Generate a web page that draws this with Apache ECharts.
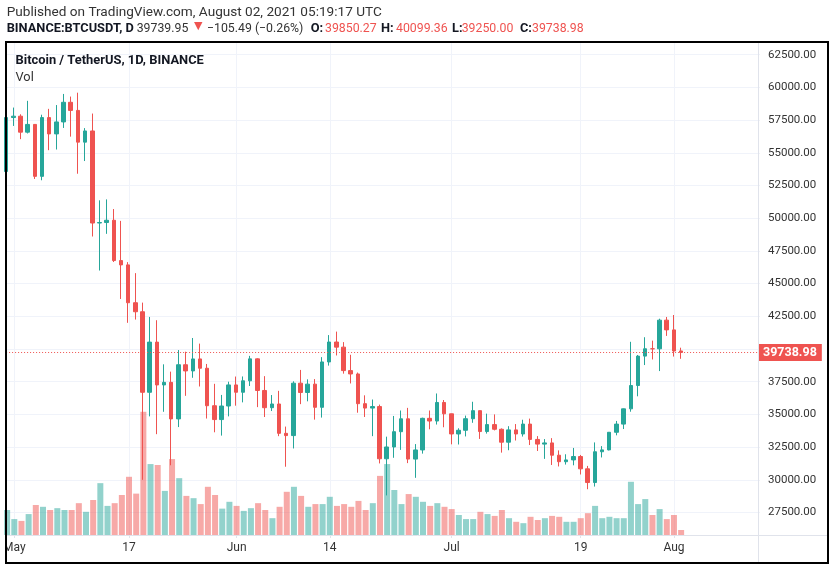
<!DOCTYPE html>
<html>
<head>
<meta charset="utf-8">
<title>Bitcoin / TetherUS, 1D, BINANCE</title>
<script src="https://cdn.jsdelivr.net/npm/echarts/dist/echarts.min.js"></script>
<style>
  html, body { margin: 0; padding: 0; background: #fff; }
  #chart { width: 835px; height: 570px; }
</style>
</head>
<body>
<div id="chart"></div>
<script>
// time scale: Apr 30 2021 onwards, incl. the empty days at the right side
var firstDay = Date.UTC(2021, 3, 30);
var dayCount = 106;
var tickLabels = {
    '2021-05-01': 'May',
    '2021-05-17': '17',
    '2021-06-01': 'Jun',
    '2021-06-14': '14',
    '2021-07-01': 'Jul',
    '2021-07-19': '19',
    '2021-08-01': 'Aug'
};

// daily candles, Apr 30 .. Aug 2
var opens = [53568, 57697, 57798, 56578, 57170, 53200, 57692, 56444, 57360, 58862,
    58240, 55816, 56670, 49631, 49670, 49841, 46762, 46431, 43538, 42849,
    36690, 40526, 37252, 37449, 34655, 38796, 38324, 39241, 38529, 35663,
    34605, 35642, 37253, 36693, 37568, 39246, 36829, 35513, 35796, 33552,
    33380, 37388, 36675, 37313, 35543, 39010, 40533, 40143, 38349, 38092,
    35820, 35484, 35600, 31608, 32509, 33678, 34663, 31584, 32283, 34700,
    34494, 35911, 35045, 33504, 33786, 34669, 35287, 33690, 34220, 33863,
    32875, 33816, 33503, 34259, 33086, 32729, 32820, 31880, 31383, 31520,
    31778, 30839, 29790, 32144, 32287, 33634, 34258, 35425, 37208, 39456,
    40019, 40016, 42206, 41461, 39850.27];
var highs = [57963, 58458, 57944, 58973, 57200, 57911, 58360, 58650, 59500, 59300,
    59595, 56888, 58000, 51367, 51438, 50700, 49795, 46643, 45800, 43546,
    42451, 42200, 38829, 38270, 39920, 39791, 40841, 40411, 38856, 37338,
    36488, 37499, 37894, 37900, 39476, 39289, 37925, 36480, 36800, 34068,
    37530, 38400, 37680, 37700, 39380, 41064, 41330, 40527, 39559, 38200,
    36457, 36137, 35750, 33298, 34881, 35298, 35500, 32730, 34749, 35297,
    36600, 36100, 35060, 33939, 34909, 35967, 35293, 35059, 35000, 33929,
    34100, 34262, 34592, 34678, 33340, 33114, 33185, 32248, 31951, 32435,
    31899, 31063, 32858, 32575, 33650, 34500, 35450, 40550, 39542, 40900,
    40640, 42316, 42448, 42599, 40099.36];
var lows = [53013, 57053, 56044, 56478, 53000, 52900, 55200, 55250, 56900, 56235,
    53400, 54370, 48600, 46000, 48805, 46650, 43825, 42001, 42250, 30000,
    34850, 33488, 35200, 31111, 34031, 36419, 37800, 37134, 34684, 33632,
    33379, 34850, 35666, 35920, 37170, 35555, 34800, 35258, 33336, 31000,
    32396, 35784, 36000, 34600, 34757, 38730, 39506, 38116, 37365, 35129,
    34803, 33336, 31251, 28805, 31683, 32286, 31275, 30151, 32000, 33862,
    34225, 34017, 32711, 32699, 33316, 34357, 33125, 33532, 33777, 32077,
    32261, 33004, 33306, 32658, 32202, 31600, 31133, 31020, 31164, 31108,
    30407, 29278, 29482, 31708, 32250, 33401, 33881, 35205, 36383, 38772,
    39200, 38313, 41000, 39422, 39250.00];
var closes = [57694, 57798, 56578, 57170, 53200, 57692, 56444, 57360, 58862, 58240,
    55816, 56670, 49631, 49670, 49841, 46762, 46431, 43538, 42849, 36690,
    40526, 37252, 37449, 34655, 38796, 38324, 39241, 38529, 35663, 34605,
    35642, 37253, 36693, 37568, 39246, 36829, 35513, 35796, 33552, 33380,
    37388, 36675, 37313, 35543, 39010, 40533, 40143, 38349, 38092, 35820,
    35484, 35600, 31608, 32509, 33678, 34663, 31584, 32283, 34700, 34494,
    35911, 35045, 33504, 33786, 34669, 35287, 33690, 34220, 33863, 32875,
    33816, 33503, 34259, 33086, 32729, 32820, 31880, 31383, 31520, 31778,
    30839, 29790, 32144, 32287, 33634, 34258, 35425, 37208, 39456, 40019,
    40016, 42206, 41461, 39845, 39738.98];
// volume, thousand BTC
var volumes = [55, 35, 31, 46, 66, 62, 55, 59, 55, 55,
    70, 51, 77, 114, 64, 70, 88, 128, 91, 271,
    156, 154, 97, 167, 125, 86, 81, 68, 106, 88,
    58, 73, 64, 53, 59, 70, 55, 37, 62, 95,
    106, 86, 62, 68, 68, 84, 64, 68, 62, 75,
    55, 70, 130, 156, 99, 68, 90, 84, 73, 64,
    70, 62, 57, 44, 35, 35, 51, 46, 42, 55,
    37, 29, 26, 40, 33, 37, 42, 40, 29, 29,
    37, 48, 64, 37, 40, 37, 37, 117, 68, 79,
    44, 57, 35, 44, 11];

// header quote
var lastPrice = '39739.95';
var change = '\u2212105.49';
var changePct = '\u22120.26%';

var upColor = '#26a69a';
var downColor = '#ef5350';
var upVolColor = 'rgba(38,166,154,0.5)';
var downVolColor = 'rgba(239,83,80,0.5)';
var gridColor = '#f0f3fa';
var sepColor = '#e0e3eb';
var textColor = '#333';
var darkText = '#131722';

var dates = [];
for (var i = 0; i < dayCount; i++) {
    dates.push(new Date(firstDay + i * 86400000).toISOString().slice(0, 10));
}

var candleData = [];
var volumeData = [];
for (var i = 0; i < closes.length; i++) {
    candleData.push([opens[i], closes[i], lows[i], highs[i]]);
    volumeData.push({
        value: volumes[i],
        itemStyle: { color: closes[i] >= opens[i] ? upVolColor : downVolColor }
    });
}
var last = closes.length - 1;

function isTick(index, value) {
    return tickLabels[value] !== undefined;
}

// header: [x, text, font, colour]
var boldFont = 'bold 12.8px Roboto';
var numFont = '12.3px Roboto';
var header = [
    [6.7, 'Published on TradingView.com, August 02, 2021 05:19:17 UTC', '13.6px Roboto', textColor, 12.7],
    [6.7, 'BINANCE:BTCUSDT, D', boldFont, darkText, 29.3],
    [136.7, lastPrice, numFont, textColor, 29.3],
    [194, '\u25BC', '11px "DejaVu Sans"', downColor, 26.5],
    [207, change + ' (' + changePct + ')', numFont, textColor, 29.3],
    [310.7, 'O:', boldFont, darkText, 29.3],
    [325, opens[last].toFixed(2), numFont, downColor, 29.3],
    [381, 'H:', boldFont, darkText, 29.3],
    [396, highs[last].toFixed(2), numFont, downColor, 29.3],
    [452, 'L:', boldFont, darkText, 29.3],
    [461.7, lows[last].toFixed(2), numFont, downColor, 29.3],
    [520, 'C:', boldFont, darkText, 29.3],
    [532, closes[last].toFixed(2), numFont, downColor, 29.3],
    [15.5, 'Bitcoin / TetherUS, 1D, BINANCE', 'bold 12.9px Roboto', darkText, 60.7],
    [15.5, 'Vol', '12.8px Roboto', textColor, 78]
];

var graphics = header.map(function (h) {
    return {
        type: 'text', z: 102, silent: true,
        style: { x: h[0], y: h[4], text: h[1], font: h[2], fill: h[3], verticalAlign: 'middle', align: 'left' }
    };
});
graphics.push(
    // hides the part of the first date label that runs past the frame
    { type: 'rect', z: 100, shape: { x: 0, y: 536, width: 6, height: 34 }, style: { fill: '#fff' } },
    { type: 'line', z: 100, shape: { x1: 758.5, y1: 43, x2: 758.5, y2: 563 }, style: { stroke: sepColor, lineWidth: 1 } },
    { type: 'line', z: 100, shape: { x1: 7, y1: 535.5, x2: 828, y2: 535.5 }, style: { stroke: sepColor, lineWidth: 1 } },
    { type: 'rect', z: 101, shape: { x: 6, y: 42, width: 822, height: 521 }, style: { fill: 'none', stroke: '#000', lineWidth: 2 } }
);

var chart = echarts.init(document.getElementById('chart'));

var option = {
    animation: false,
    textStyle: { fontFamily: 'Roboto' },
    grid: [
        { left: 6.1, right: 75, top: 22, height: 523.2 },
        { left: 6.1, right: 75, top: 43, bottom: 35 }
    ],
    xAxis: [
        {
            type: 'category', gridIndex: 0, data: dates, boundaryGap: false, show: false
        },
        {
            type: 'category', gridIndex: 1, data: dates, boundaryGap: false,
            axisLine: { show: false },
            axisTick: { show: true, interval: isTick, length: 3, lineStyle: { color: sepColor } },
            axisLabel: {
                interval: isTick,
                formatter: function (v) { return tickLabels[v] || ''; },
                color: textColor, fontSize: 12, margin: 7
            },
            splitLine: { show: true, interval: isTick, lineStyle: { color: gridColor } }
        }
    ],
    yAxis: [
        {
            type: 'value', gridIndex: 0, position: 'right',
            min: 25000, max: 65000, interval: 2500,
            axisLine: { show: false },
            axisTick: { show: false },
            axisLabel: {
                showMinLabel: false, showMaxLabel: false,
                margin: 8, color: textColor, fontSize: 11.5,
                formatter: function (v) { return (v < 27500 || v > 62500) ? '' : v.toFixed(2); }
            },
            splitLine: { show: true, showMinLine: false, showMaxLine: false, lineStyle: { color: gridColor } }
        },
        {
            type: 'value', gridIndex: 1, min: 0, max: 1082, show: false,
            splitLine: { show: false }
        }
    ],
    series: [
        {
            name: 'Vol',
            type: 'bar',
            xAxisIndex: 1, yAxisIndex: 1,
            barWidth: 6,
            z: 1,
            data: volumeData
        },
        {
            name: 'BTCUSDT',
            type: 'candlestick',
            xAxisIndex: 0, yAxisIndex: 0,
            barWidth: 4,
            z: 3,
            itemStyle: {
                color: upColor, color0: downColor,
                borderColor: upColor, borderColor0: downColor,
                borderWidth: 1
            },
            data: candleData,
            markLine: {
                silent: true,
                symbol: ['none', 'none'],
                lineStyle: { color: downColor, type: [1, 2], width: 1 },
                label: {
                    position: 'end', distance: -2,
                    formatter: function (p) { return p.value.toFixed(2); },
                    backgroundColor: downColor, color: '#fff', fontWeight: 'bold',
                    fontSize: 12.5, padding: [3, 5, 2, 5], lineHeight: 12
                },
                data: [{ yAxis: closes[last] }]
            }
        }
    ],
    graphic: graphics
};

chart.setOption(option);
</script>
</body>
</html>
